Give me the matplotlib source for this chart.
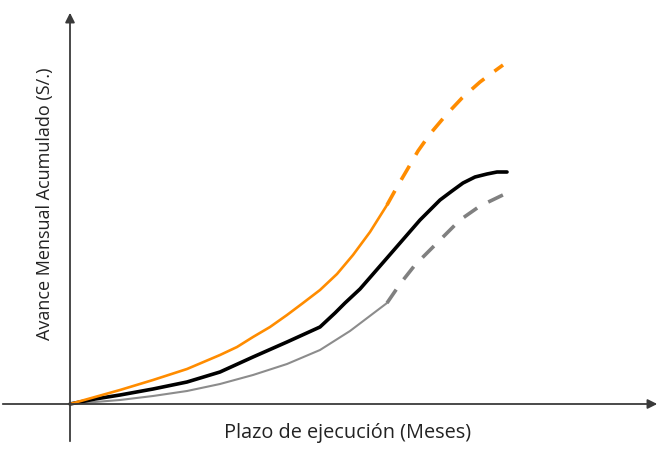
import matplotlib.pyplot as plt

# values (x = months, y = accumulated progress, arbitrary units)
orange_x = [0, 25, 50, 83, 117, 150, 167, 183, 200, 217, 233, 250, 267, 283, 300, 317]
orange_y = [0, 7, 14, 24, 35, 49, 57, 67, 77, 89, 101, 114, 130, 149, 172, 199]
orange_dash_x = [317, 327, 337, 348, 360, 376, 392, 410, 422, 433]
orange_dash_y = [199, 217, 234, 253, 270, 289, 306, 322, 331, 339]

black_x = [0, 25, 50, 83, 117, 150, 183, 217, 250, 265, 275, 290, 317, 350,
           370, 382, 393, 405, 417, 427, 437]
black_y = [0, 5, 9, 15, 22, 32, 47, 62, 77, 91, 101, 115, 146, 184,
           204, 213, 221, 227, 230, 232, 232]

gray_x = [0, 50, 83, 117, 150, 183, 217, 250, 280, 317]
gray_y = [0, 4, 8, 13, 20, 29, 40, 54, 73, 101]
gray_dash_x = [317, 330, 345, 360, 375, 390, 410, 437]
gray_dash_y = [101, 120, 139, 154, 169, 184, 198, 211]

fig = plt.figure(figsize=(6.6, 4.51), dpi=100)
ax = fig.add_axes([0, 0, 1, 1])
ax.set_xlim(-70, 590)
ax.set_ylim(-47, 404)
ax.axis('off')

axis_col = '#3a3a3a'
ax.annotate('', xy=(590, 0), xytext=(-70, 0),
            arrowprops=dict(arrowstyle='-|>', color=axis_col, lw=1.3, mutation_scale=14))
ax.annotate('', xy=(0, 394), xytext=(0, -40),
            arrowprops=dict(arrowstyle='-|>', color=axis_col, lw=1.3, mutation_scale=14))

ax.plot(gray_x, gray_y, color='#8c8c8c', lw=1.5, solid_capstyle='round')
ax.plot(gray_dash_x, gray_dash_y, color='#808080', lw=2.6, dashes=(4.5, 3.5))
ax.plot(black_x, black_y, color='black', lw=2.6, solid_capstyle='round')
ax.plot(orange_x, orange_y, color='#ff8c00', lw=1.9, solid_capstyle='round')
ax.plot(orange_dash_x, orange_dash_y, color='#ff8c00', lw=2.6, dashes=(4.5, 3.5))

ax.text(278, -29, 'Plazo de ejecución (Meses)', ha='center', va='center',
        fontsize=14.3, family='Open Sans', color='#222222')
ax.text(-25, 200, 'Avance Mensual Acumulado (S/.)', ha='center', va='center',
        rotation=90, fontsize=13, family='Open Sans', color='#222222')

fig.savefig('out.png', dpi=100)
